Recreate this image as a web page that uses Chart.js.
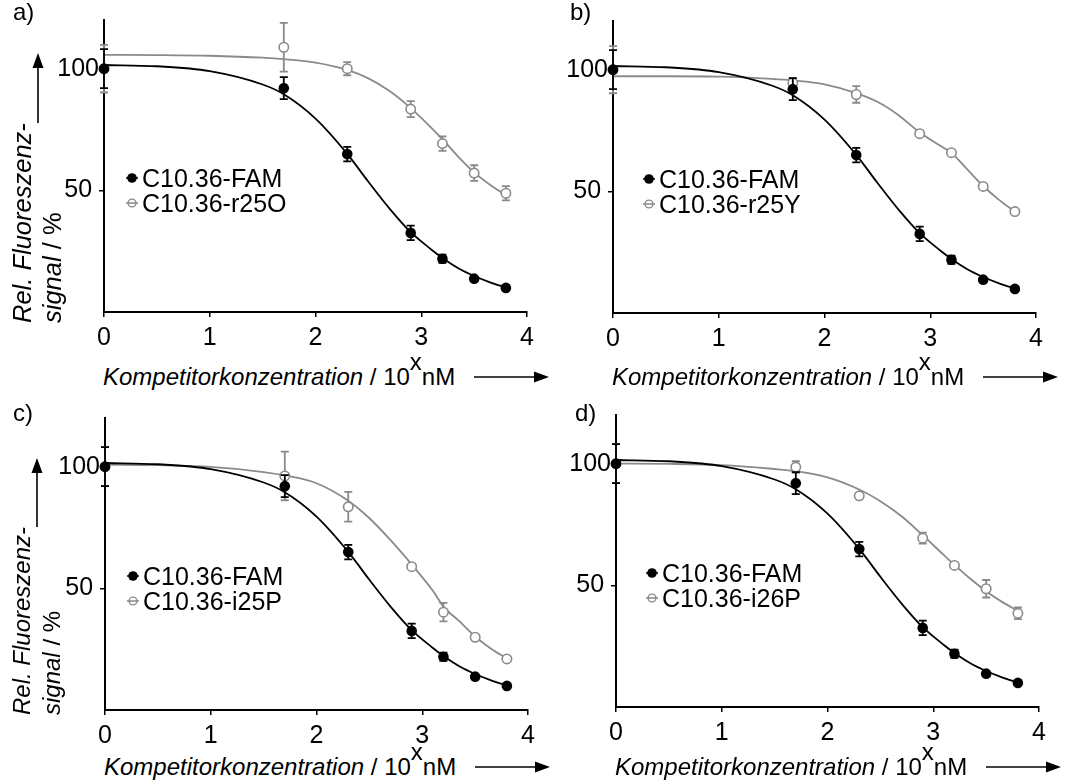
<!DOCTYPE html>
<html><head><meta charset="utf-8">
<script src="https://cdn.jsdelivr.net/npm/chart.js@4.4.1/dist/chart.umd.min.js"></script>
<style>
html,body{margin:0;padding:0;background:#fff;}
body{width:1067px;height:783px;position:relative;overflow:hidden;font-family:"Liberation Sans",Arial,sans-serif;color:#000;}
canvas{position:absolute;}
.t{position:absolute;font-size:24px;line-height:24px;white-space:nowrap;}
.lg{position:absolute;font-size:25px;line-height:24px;white-space:nowrap;}
.ytitle{position:absolute;transform-origin:0 0;transform:rotate(-90deg);line-height:30px;white-space:nowrap;}
.mk{position:absolute;}
</style></head><body>

<canvas id="ca" width="540" height="350" style="left:0px;top:0px"></canvas>
<canvas id="cb" width="540" height="350" style="left:509px;top:1px"></canvas>
<canvas id="cc" width="540" height="350" style="left:1px;top:398px"></canvas>
<canvas id="cd" width="540" height="350" style="left:512px;top:395px"></canvas>

<div class="t" style="left:13px;top:0px">a)</div>
<div class="t" style="left:570px;top:0px">b)</div>
<div class="t" style="left:13px;top:401px">c)</div>
<div class="t" style="left:575px;top:401px">d)</div>

<div class="ytitle" style="left:7px;top:323px;font-size:25.5px"><i>Rel. Fluoreszenz-</i><br><i>signal</i> / %</div>
<div class="ytitle" style="left:7px;top:715px;font-size:24px"><i>Rel. Fluoreszenz-</i><br><i>signal</i> / %</div>
<svg class="mk" style="left:31px;top:53px" width="14" height="70"><line x1="7" y1="12" x2="7" y2="70" stroke="#000" stroke-width="1.6"/><polygon points="7,0 1.5,15 12.5,15" fill="#000"/></svg>
<svg class="mk" style="left:30px;top:458px" width="14" height="69"><line x1="7" y1="12" x2="7" y2="69" stroke="#000" stroke-width="1.6"/><polygon points="7,0 1.5,15 12.5,15" fill="#000"/></svg>

<div class="t" style="left:103px;top:365px"><i>Kompetitorkonzentration</i> / 10<span style="position:relative;top:-15px">x</span>nM</div>
<div class="t" style="left:612px;top:365px"><i>Kompetitorkonzentration</i> / 10<span style="position:relative;top:-15px">x</span>nM</div>
<div class="t" style="left:104px;top:755px"><i>Kompetitorkonzentration</i> / 10<span style="position:relative;top:-15px">x</span>nM</div>
<div class="t" style="left:615px;top:755px"><i>Kompetitorkonzentration</i> / 10<span style="position:relative;top:-15px">x</span>nM</div>
<svg class="mk" style="left:474px;top:371px" width="75" height="12"><line x1="0" y1="6" x2="62" y2="6" stroke="#000" stroke-width="1.6"/><polygon points="75,6 60,0.5 60,11.5" fill="#000"/></svg>
<svg class="mk" style="left:983px;top:371px" width="75" height="12"><line x1="0" y1="6" x2="62" y2="6" stroke="#000" stroke-width="1.6"/><polygon points="75,6 60,0.5 60,11.5" fill="#000"/></svg>
<svg class="mk" style="left:475px;top:761px" width="75" height="12"><line x1="0" y1="6" x2="62" y2="6" stroke="#000" stroke-width="1.6"/><polygon points="75,6 60,0.5 60,11.5" fill="#000"/></svg>
<svg class="mk" style="left:986px;top:761px" width="75" height="12"><line x1="0" y1="6" x2="62" y2="6" stroke="#000" stroke-width="1.6"/><polygon points="75,6 60,0.5 60,11.5" fill="#000"/></svg>

<div id="legends"></div>

<script>
// ---- data ----
const xTicks = [0, 1, 2, 3, 4];
const yTicks = [50, 100];
const concX = [0, 1.7, 2.3, 2.9, 3.2, 3.5, 3.8];
const curveX = [0, 0.5, 1, 1.5, 1.7, 2, 2.3, 2.5, 2.7, 2.9, 3.1, 3.2, 3.35, 3.5, 3.65, 3.8];

const famName = 'C10.36-FAM';
const famY   = [100, 92.0, 64.9, 32.5, 21.9, 13.7, 9.9];
const famErr = [8, 4.5, 3, 3, 1.7, 0.8, 0.5];
const famFit = [101.5, 101, 99, 93.5, 89.5, 79.5, 65, 53.5, 42.5, 32.8, 25.5, 22.2, 18, 14.8, 12.2, 10];

const r25OName = 'C10.36-r25O';
const r25OY   = [100, 108.8, 100, 83.4, 69.2, 57.1, 48.8];
const r25OErr = [9.8, 10, 2.7, 3.3, 3, 3.2, 2.9];
const r25OFit = [105.7, 105.6, 105.3, 104.5, 103.9, 102.5, 99.5, 96, 90.8, 83.8, 75.5, 71, 63.8, 57.4, 52.3, 48];

const r25YName = 'C10.36-r25Y';
const r25YY   = [100, 94.6, 89.8, 73.7, 65.9, 52.0, 41.7];
const r25YErr = [9.7, 1.9, 3.4, 1, 1, 0.8, 0.8];
const r25YFit = [97.3, 97.3, 97.1, 96.2, 95.6, 94, 90.4, 86.8, 81.3, 74.2, 68.6, 65.8, 59, 52.2, 46.5, 41.7];

const i25PName = 'C10.36-i25P';
const i25PY   = [100, 96.2, 83.5, 58.9, 40.2, 29.9, 21.0];
const i25PErr = [8, 10, 6.1, 1, 3.8, 1, 1];
const i25PFit = [100.8, 100.6, 99.9, 97.8, 96.4, 93.2, 86, 78.8, 69.8, 59.8, 49, 42.5, 36.5, 30.2, 25.2, 21.2];

const i26PName = 'C10.36-i26P';
const i26PY   = [100, 98.6, 86.8, 69.4, 58.2, 48.6, 38.5];
const i26PErr = [8, 2.4, 0.8, 2.3, 0.8, 3.6, 2.4];
const i26PFit = [100, 99.9, 99.4, 97.8, 96.9, 94.4, 89.4, 84.6, 78.4, 70.6, 62.4, 58.4, 52.7, 47.6, 43.2, 39.5];

// ---- styling ----
const BLACK = '#000000';
const GRAY = '#8a8a8a';
const FONT = '"Liberation Sans", Arial, sans-serif';

const errorBars = {
  id: 'errorBars',
  beforeDatasetDraw(chart, args) {
    const ds = chart.data.datasets[args.index];
    if (!ds.errors) return;
    const ctx = chart.ctx, xs = chart.scales.x, ys = chart.scales.y;
    ctx.save();
    ctx.strokeStyle = ds.errColor;
    ctx.lineWidth = 1.8;
    ds.data.forEach((p, i) => {
      const e = ds.errors[i];
      const px = xs.getPixelForValue(p.x);
      const yt = ys.getPixelForValue(p.y + e);
      const yb = ys.getPixelForValue(p.y - e);
      ctx.beginPath();
      ctx.moveTo(px, yt); ctx.lineTo(px, yb);
      ctx.moveTo(px - 4, yt); ctx.lineTo(px + 4, yt);
      ctx.moveTo(px - 4, yb); ctx.lineTo(px + 4, yb);
      ctx.stroke();
    });
    ctx.restore();
  }
};

const pts = (xs, ys) => xs.map((x, i) => ({ x: x, y: ys[i] }));

function makeChart(id, compY, compErr, compFit) {
  return new Chart(document.getElementById(id), {
    type: 'scatter',
    data: {
      datasets: [
        { label: famName, data: pts(concX, famY), errors: famErr, errColor: BLACK,
          backgroundColor: BLACK, borderColor: BLACK, borderWidth: 0, pointRadius: 5.3,
          showLine: false, order: 0, clip: false },
        { label: famName + ' fit', type: 'line', data: pts(curveX, famFit), borderColor: BLACK,
          borderWidth: 1.8, pointRadius: 0, cubicInterpolationMode: 'monotone', fill: false, order: 1, clip: false },
        { label: 'comp', data: pts(concX, compY), errors: compErr, errColor: GRAY,
          backgroundColor: '#ffffff', borderColor: GRAY, borderWidth: 1.6, pointRadius: 4.7,
          showLine: false, order: 2, clip: false },
        { label: 'comp fit', type: 'line', data: pts(curveX, compFit), borderColor: GRAY,
          borderWidth: 1.8, pointRadius: 0, cubicInterpolationMode: 'monotone', fill: false, order: 3, clip: false }
      ]
    },
    options: {
      responsive: false, animation: false, devicePixelRatio: 1,
      layout: { padding: { top: 20, right: 12, left: 0, bottom: 0 } },
      plugins: { legend: { display: false }, tooltip: { enabled: false } },
      scales: {
        x: {
          type: 'linear', min: 0, max: 4,
          afterBuildTicks: s => { s.ticks = xTicks.map(v => ({ value: v })); },
          afterFit: s => { s.height = 38; },
          grid: { drawOnChartArea: false, drawTicks: true, tickLength: 5, color: BLACK, lineWidth: 1.5 },
          border: { display: true, color: BLACK, width: 2 },
          ticks: { font: { family: FONT, size: 25 }, color: BLACK, padding: 6, maxRotation: 0, autoSkip: false }
        },
        y: {
          type: 'linear', min: 0, max: 120,
          afterBuildTicks: s => { s.ticks = yTicks.map(v => ({ value: v })); },
          afterFit: s => { s.width = 104; },
          grid: { drawOnChartArea: false, drawTicks: true, tickLength: 5, color: BLACK, lineWidth: 1.5 },
          border: { display: true, color: BLACK, width: 2 },
          ticks: { font: { family: FONT, size: 25 }, color: BLACK, padding: 0, crossAlign: 'center', autoSkip: false }
        }
      }
    },
    plugins: [errorBars]
  });
}

makeChart('ca', r25OY, r25OErr, r25OFit);
makeChart('cb', r25YY, r25YErr, r25YFit);
makeChart('cc', i25PY, i25PErr, i25PFit);
makeChart('cd', i26PY, i26PErr, i26PFit);

// ---- legends (HTML, placed inside each plot) ----
const legendSpecs = [
  { mx: 132, y1: 178, comp: r25OName },
  { mx: 649, y1: 179, comp: r25YName },
  { mx: 133, y1: 576, comp: i25PName },
  { mx: 652, y1: 573, comp: i26PName }
];
const lg = document.getElementById('legends');
legendSpecs.forEach(s => {
  const rows = [
    { name: famName, y: s.y1, svg: '<line x1="1" y1="7" x2="13" y2="7" stroke="#000" stroke-width="1.5"/><circle cx="7" cy="7" r="4.8" fill="#000"/>' },
    { name: s.comp, y: s.y1 + 25, svg: '<line x1="1" y1="7" x2="13" y2="7" stroke="' + GRAY + '" stroke-width="1.5"/><circle cx="7" cy="7" r="3.9" fill="none" stroke="' + GRAY + '" stroke-width="1.4"/>' }
  ];
  rows.forEach(r => {
    const m = document.createElementNS('http://www.w3.org/2000/svg', 'svg');
    m.setAttribute('width', '14'); m.setAttribute('height', '14');
    m.setAttribute('class', 'mk');
    m.style.left = (s.mx - 7) + 'px'; m.style.top = (r.y - 7) + 'px';
    m.innerHTML = r.svg;
    lg.appendChild(m);
    const t = document.createElement('div');
    t.className = 'lg';
    t.style.left = (s.mx + 10) + 'px'; t.style.top = (r.y - 12) + 'px';
    t.textContent = r.name;
    lg.appendChild(t);
  });
});
</script>
</body></html>
